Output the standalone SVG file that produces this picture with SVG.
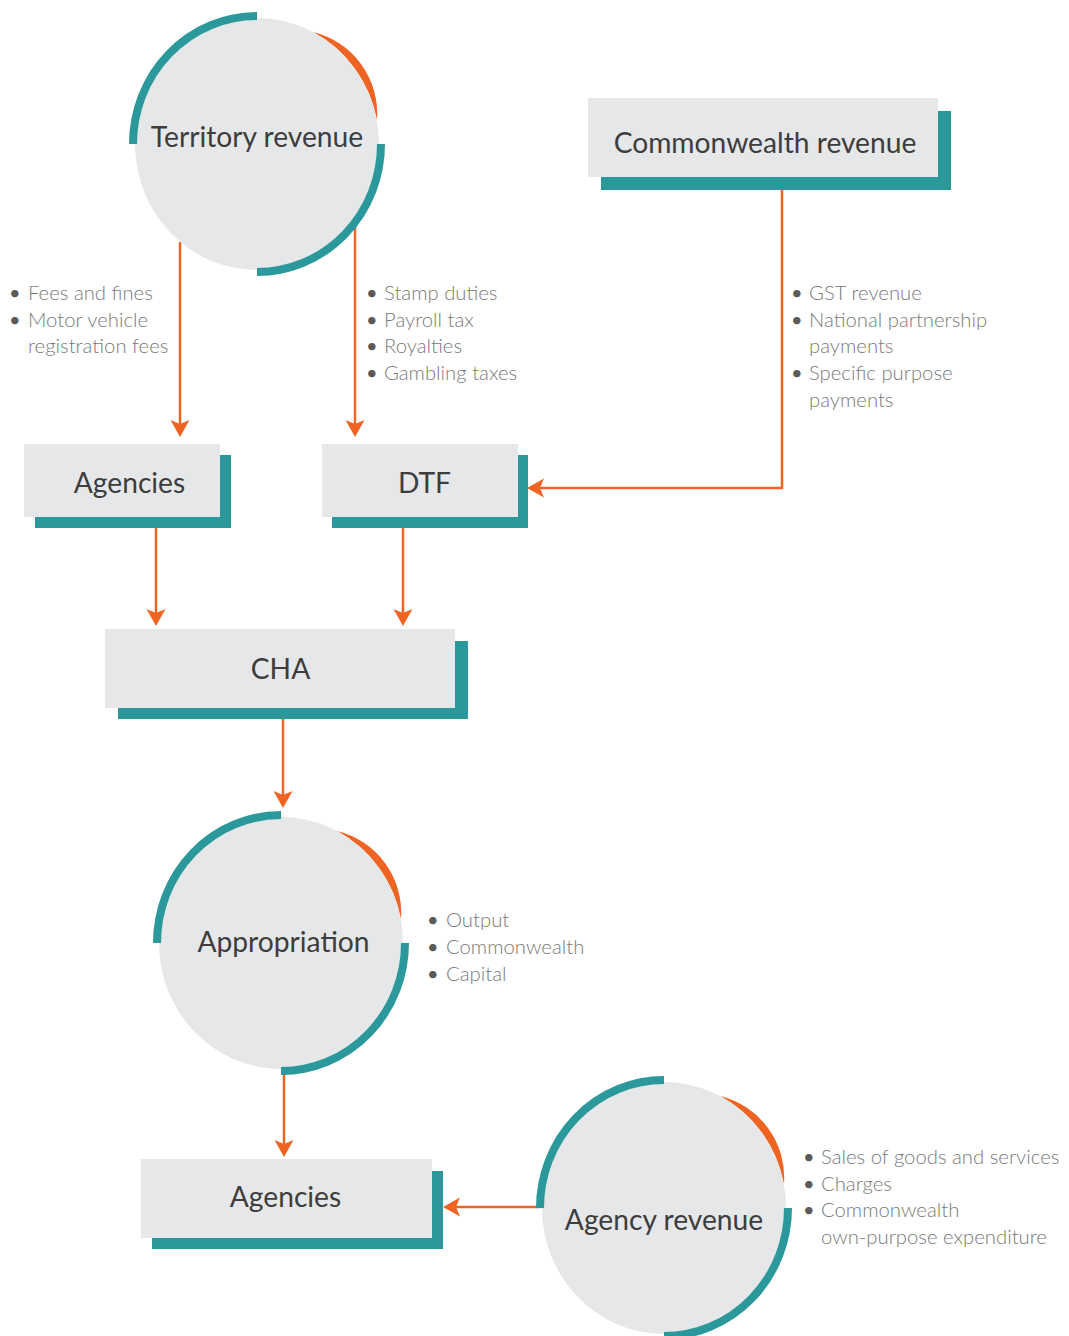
<svg xmlns="http://www.w3.org/2000/svg" width="1069" height="1336" viewBox="0 0 1069 1336">
<style>
.bg{fill:#ffffff}
.box{fill:#e6e7e8}
.shadow{fill:#2b999b}
.disc{fill:#e6e7e8}
.ring{fill:none;stroke:#2b999b;stroke-width:8}
.crescent{fill:#ef6423}
.conn{fill:none;stroke:#ef6423;stroke-width:2.5}
.label{font-family:Lato,"Liberation Sans",sans-serif;font-size:28.2px;fill:#3d3d3d;text-anchor:middle}
.item{font-family:Lato,"Liberation Sans",sans-serif;font-weight:300;font-size:20.3px;fill:#7a7a7a}
.dot{font-family:Lato,"Liberation Sans",sans-serif;font-size:20px;fill:#5a5a5a}
</style>
<defs>
<marker id="ah" markerWidth="20" markerHeight="22" viewBox="-4 -11 20 22" refX="2" refY="0" orient="auto" markerUnits="userSpaceOnUse">
<path d="M-3,-9.5 L14,0 L-3,9.5 L1,0 Z" fill="#ef6423"/>
</marker>
<g id="circ">
<path class="crescent" d="M56,-112 A84 84 0 0 1 120,-24 A122 126 0 0 0 56,-112 Z"/>
<ellipse class="disc" cx="0" cy="0" rx="122" ry="126"/>
<path class="ring" d="M0,-128 A124 128 0 0 0 -124,0"/>
<path class="ring" d="M124,0 A124 128 0 0 1 0,128"/>
</g>
</defs>
<rect class="bg" x="0" y="0" width="1069" height="1336"/>

<g id="connectors">
<path class="conn" d="M180,242 V425" marker-end="url(#ah)"/>
<path class="conn" d="M355,226 V425" marker-end="url(#ah)"/>
<path class="conn" d="M782,190 V488 H539" marker-end="url(#ah)"/>
<path class="conn" d="M156,528 V614" marker-end="url(#ah)"/>
<path class="conn" d="M403,528 V614" marker-end="url(#ah)"/>
<path class="conn" d="M283,719 V796" marker-end="url(#ah)"/>
<path class="conn" d="M284,1069 V1145" marker-end="url(#ah)"/>
<path class="conn" d="M541,1207 H455" marker-end="url(#ah)"/>
</g>

<g id="territory-revenue">
<use href="#circ" x="257" y="144"/>
<text class="label" x="257" y="147">Territory revenue</text>
</g>

<g id="commonwealth-revenue">
<rect class="shadow" x="601" y="111" width="350" height="79"/>
<rect class="box" x="588" y="98" width="350" height="79"/>
<text class="label" x="765" y="153">Commonwealth revenue</text>
</g>

<g id="agencies-top">
<rect class="shadow" x="35" y="455" width="196" height="73"/>
<rect class="box" x="24" y="444" width="196" height="73"/>
<text class="label" x="129.5" y="493">Agencies</text>
</g>

<g id="dtf">
<rect class="shadow" x="332" y="455" width="196" height="73"/>
<rect class="box" x="322" y="444" width="196" height="73"/>
<text class="label" x="424.5" y="493">DTF</text>
</g>

<g id="cha">
<rect class="shadow" x="118" y="641" width="350" height="78"/>
<rect class="box" x="105" y="629" width="350" height="79"/>
<text class="label" x="280.5" y="679">CHA</text>
</g>

<g id="appropriation">
<use href="#circ" x="281" y="943"/>
<text class="label" x="283.5" y="952">Appropriation</text>
</g>

<g id="agencies-bottom">
<rect class="shadow" x="152" y="1171" width="291" height="78"/>
<rect class="box" x="141" y="1159" width="291" height="79"/>
<text class="label" x="285.5" y="1207">Agencies</text>
</g>

<g id="agency-revenue">
<use href="#circ" x="664" y="1208"/>
<text class="label" x="664" y="1230">Agency revenue</text>
</g>

<g id="list-territory-agencies">
<text class="dot" x="9" y="300">•</text>
<text class="dot" x="9" y="326.5">•</text>
<text class="item" x="28" y="300">Fees and fines</text>
<text class="item" x="28" y="326.5">Motor vehicle</text>
<text class="item" x="28" y="353">registration fees</text>
</g>

<g id="list-territory-dtf">
<text class="dot" x="366" y="300">•</text>
<text class="dot" x="366" y="326.5">•</text>
<text class="dot" x="366" y="353">•</text>
<text class="dot" x="366" y="380">•</text>
<text class="item" x="384" y="300">Stamp duties</text>
<text class="item" x="384" y="326.5">Payroll tax</text>
<text class="item" x="384" y="353">Royalties</text>
<text class="item" x="384" y="380">Gambling taxes</text>
</g>

<g id="list-commonwealth">
<text class="dot" x="791" y="300">•</text>
<text class="dot" x="791" y="327">•</text>
<text class="dot" x="791" y="380">•</text>
<text class="item" x="809" y="300">GST revenue</text>
<text class="item" x="809" y="327">National partnership</text>
<text class="item" x="809" y="353">payments</text>
<text class="item" x="809" y="380">Specific purpose</text>
<text class="item" x="809" y="407">payments</text>
</g>

<g id="list-appropriation">
<text class="dot" x="427" y="927">•</text>
<text class="dot" x="427" y="954">•</text>
<text class="dot" x="427" y="981">•</text>
<text class="item" x="446" y="927">Output</text>
<text class="item" x="446" y="954">Commonwealth</text>
<text class="item" x="446" y="981">Capital</text>
</g>

<g id="list-agency-revenue">
<text class="dot" x="803" y="1164">•</text>
<text class="dot" x="803" y="1191">•</text>
<text class="dot" x="803" y="1217">•</text>
<text class="item" x="821" y="1164">Sales of goods and services</text>
<text class="item" x="821" y="1191">Charges</text>
<text class="item" x="821" y="1217">Commonwealth</text>
<text class="item" x="821" y="1244">own-purpose expenditure</text>
</g>
</svg>
